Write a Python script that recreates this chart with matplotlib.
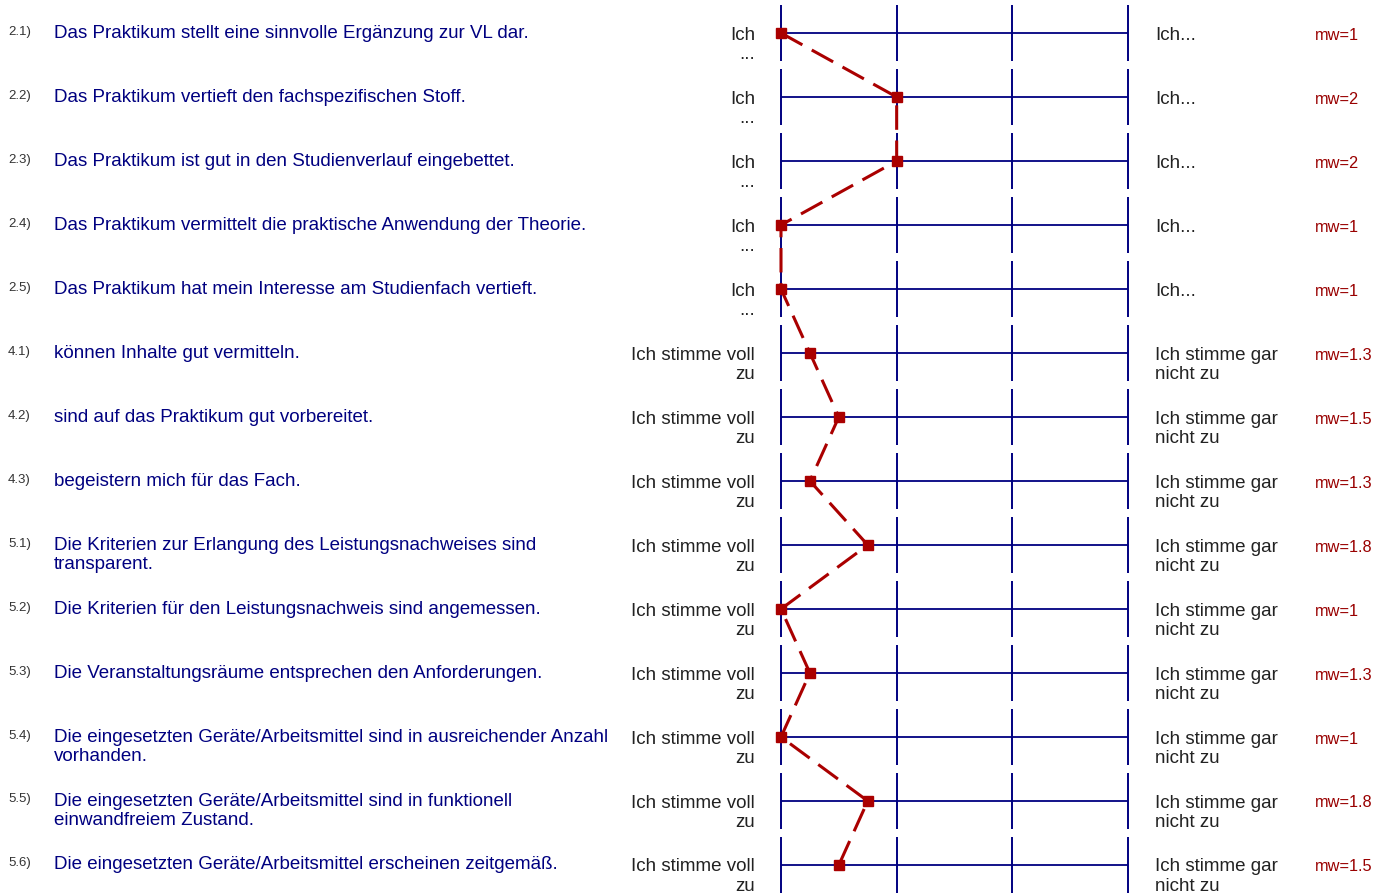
import matplotlib
matplotlib.use('Agg')
from matplotlib import pyplot as plt

plt.rcParams['font.family'] = ['Liberation Sans', 'DejaVu Sans']

numbers = ['2.1)', '2.2)', '2.3)', '2.4)', '2.5)', '4.1)', '4.2)', '4.3)',
           '5.1)', '5.2)', '5.3)', '5.4)', '5.5)', '5.6)']
questions = [
    'Das Praktikum stellt eine sinnvolle Ergänzung zur VL dar.',
    'Das Praktikum vertieft den fachspezifischen Stoff.',
    'Das Praktikum ist gut in den Studienverlauf eingebettet.',
    'Das Praktikum vermittelt die praktische Anwendung der Theorie.',
    'Das Praktikum hat mein Interesse am Studienfach vertieft.',
    'können Inhalte gut vermitteln.',
    'sind auf das Praktikum gut vorbereitet.',
    'begeistern mich für das Fach.',
    'Die Kriterien zur Erlangung des Leistungsnachweises sind\ntransparent.',
    'Die Kriterien für den Leistungsnachweis sind angemessen.',
    'Die Veranstaltungsräume entsprechen den Anforderungen.',
    'Die eingesetzten Geräte/Arbeitsmittel sind in ausreichender Anzahl\nvorhanden.',
    'Die eingesetzten Geräte/Arbeitsmittel sind in funktionell\neinwandfreiem Zustand.',
    'Die eingesetzten Geräte/Arbeitsmittel erscheinen zeitgemäß.',
]
left_labels = ['Ich\n...'] * 5 + ['Ich stimme voll\nzu'] * 9
right_labels = ['Ich...'] * 5 + ['Ich stimme gar\nnicht zu'] * 9
means = [1, 2, 2, 1, 1, 1.25, 1.5, 1.25, 1.75, 1, 1.25, 1, 1.75, 1.5]
mw_labels = ['1', '2', '2', '1', '1', '1.3', '1.5', '1.3', '1.8', '1', '1.3', '1', '1.8', '1.5']
scale = [1, 2, 3, 4]

navy = '#000080'
red = '#aa0000'

fig = plt.figure(figsize=(13.86, 8.95), dpi=100)
ax = fig.add_axes([0, 0, 1, 1])
step = (1128 - 781) / 3
ax.set_xlim(1 - 781 / step, 1 + (1386 - 781) / step)
ax.set_ylim((895 - 34) / 64, -34 / 64)
ax.axis('off')


def px(x):
    # pixel column -> scale value
    return 1 + (x - 781) / step


rows = list(range(len(questions)))
for i in rows:
    ax.vlines(scale, i - 28 / 64, i + 28 / 64, color=navy, lw=1.4)
    ax.hlines(i, scale[0], scale[-1], color=navy, lw=1.3)
    ax.text(px(8), i + 0.5 / 64, numbers[i], fontsize=9.5, color='#333333', va='baseline')
    ax.text(px(54), i - 9.5 / 64, questions[i], fontsize=13.5, color=navy, va='top',
            linespacing=1.17)
    ax.text(px(755), i - 7.5 / 64, left_labels[i], fontsize=13.5, color='#222222', va='top',
            ha='right', multialignment='right', linespacing=1.2)
    ax.text(px(1155), i - 7.5 / 64, right_labels[i], fontsize=13.5, color='#222222', va='top',
            linespacing=1.2)
    ax.text(px(1315), i + 5.5 / 64, 'mw=' + mw_labels[i], fontsize=11.8, color='#990000',
            va='baseline')

line, = ax.plot(means, rows, color=red, lw=2.2, ls='--', marker='s', markersize=7,
                markerfacecolor=red, markeredgecolor=red, zorder=5)
line.set_dashes((8, 3.5))

fig.savefig('out.png', dpi=100)
